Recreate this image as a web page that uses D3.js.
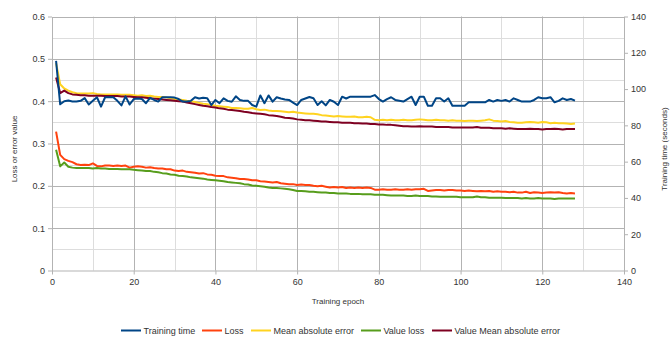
<!DOCTYPE html>
<html>
<head>
<meta charset="utf-8">
<script src="https://cdn.jsdelivr.net/npm/d3@7"></script>
<style>
  body { margin: 0; background: #fff; }
  svg { display: block; font-family: "Liberation Sans", Arial, sans-serif; }
</style>
</head>
<body>
<div id="chart"></div>
<script>
// epochs 1..128
const epochs = d3.range(1, 129);

const trainingTime = [
  115.5, 91.6, 93.3, 93.7, 93.2, 93.2, 93.5, 95.0, 91.5, 93.5,
  95.5, 90.3, 95.5, 95.5, 95.5, 93.5, 91.0, 96.0, 91.5, 94.5,
  94.8, 94.5, 92.2, 95.2, 94.0, 93.1, 95.5, 95.5, 95.5, 95.3,
  94.5, 93.1, 93.1, 93.5, 95.5, 94.8, 95.2, 95.0, 91.2, 94.0,
  92.2, 94.9, 93.5, 93.0, 96.0, 94.0, 93.5, 93.5, 91.2, 90.3,
  96.5, 92.2, 96.5, 93.1, 95.5, 94.8, 94.3, 94.0, 92.5, 91.2,
  94.0, 94.8, 95.6, 94.9, 91.2, 93.3, 91.0, 94.0, 93.0, 91.2,
  95.8, 94.8, 95.8, 95.8, 95.8, 95.8, 95.8, 95.8, 96.7, 94.5,
  93.1, 94.5, 95.5, 94.0, 93.6, 93.1, 94.5, 95.8, 91.2, 95.8,
  95.8, 90.8, 90.8, 94.9, 94.9, 93.1, 94.9, 90.8, 90.8, 90.8,
  90.8, 92.7, 92.7, 92.7, 92.7, 92.7, 94.0, 93.1, 94.0, 93.5,
  94.0, 93.1, 94.9, 94.0, 93.1, 93.1, 93.1, 94.0, 95.5, 94.9,
  94.9, 95.5, 92.7, 93.5, 94.9, 94.0, 94.5, 93.6
];

const loss = [
  0.328, 0.273, 0.263, 0.259, 0.256, 0.251, 0.249, 0.250, 0.249, 0.253,
  0.247, 0.246, 0.248, 0.248, 0.247, 0.248, 0.247, 0.248, 0.243, 0.245,
  0.246, 0.245, 0.243, 0.244, 0.242, 0.241, 0.241, 0.239, 0.239, 0.236,
  0.235, 0.236, 0.233, 0.232, 0.231, 0.229, 0.230, 0.227, 0.226, 0.224,
  0.223, 0.223, 0.220, 0.219, 0.218, 0.216, 0.216, 0.215, 0.213, 0.213,
  0.211, 0.210, 0.209, 0.208, 0.209, 0.206, 0.205, 0.204, 0.204, 0.202,
  0.203, 0.202, 0.202, 0.200, 0.199, 0.200, 0.198, 0.196, 0.197, 0.196,
  0.197, 0.195, 0.196, 0.195, 0.196, 0.195, 0.196, 0.195, 0.191, 0.191,
  0.192, 0.191, 0.191, 0.192, 0.191, 0.191, 0.192, 0.191, 0.192, 0.192,
  0.193, 0.188, 0.189, 0.190, 0.190, 0.189, 0.190, 0.190, 0.189, 0.189,
  0.188, 0.189, 0.188, 0.187, 0.188, 0.187, 0.188, 0.186, 0.187, 0.186,
  0.186, 0.185, 0.186, 0.184, 0.184, 0.186, 0.183, 0.185, 0.184, 0.183,
  0.184, 0.185, 0.184, 0.185, 0.183, 0.182, 0.183, 0.182
];

const meanAbsError = [
  0.490, 0.440, 0.430, 0.425, 0.421, 0.419, 0.418, 0.418, 0.418, 0.419,
  0.417, 0.416, 0.416, 0.416, 0.416, 0.416, 0.415, 0.415, 0.415, 0.414,
  0.413, 0.414, 0.412, 0.413, 0.411, 0.410, 0.410, 0.409, 0.407, 0.405,
  0.404, 0.403, 0.401, 0.400, 0.398, 0.396, 0.394, 0.393, 0.391, 0.389,
  0.388, 0.387, 0.386, 0.384, 0.384, 0.383, 0.382, 0.382, 0.384, 0.381,
  0.379, 0.380, 0.378, 0.377, 0.377, 0.376, 0.375, 0.374, 0.375, 0.373,
  0.372, 0.371, 0.370, 0.370, 0.369, 0.367, 0.366, 0.365, 0.364, 0.365,
  0.364, 0.363, 0.363, 0.364, 0.362, 0.362, 0.363, 0.362, 0.356, 0.355,
  0.356, 0.355, 0.356, 0.355, 0.355, 0.356, 0.355, 0.355, 0.356, 0.357,
  0.356, 0.355, 0.355, 0.356, 0.355, 0.355, 0.354, 0.355, 0.354, 0.354,
  0.353, 0.354, 0.354, 0.353, 0.354, 0.355, 0.357, 0.354, 0.353, 0.352,
  0.353, 0.351, 0.350, 0.349, 0.349, 0.350, 0.351, 0.350, 0.349, 0.351,
  0.350, 0.348, 0.349, 0.348, 0.348, 0.347, 0.346, 0.347
];

const valueLoss = [
  0.285, 0.246, 0.255, 0.245, 0.243, 0.242, 0.242, 0.242, 0.242, 0.241,
  0.242, 0.241, 0.241, 0.240, 0.240, 0.240, 0.239, 0.239, 0.239, 0.238,
  0.237, 0.236, 0.235, 0.235, 0.233, 0.232, 0.230, 0.229, 0.227, 0.226,
  0.224, 0.223, 0.222, 0.220, 0.219, 0.218, 0.217, 0.215, 0.214, 0.213,
  0.212, 0.211, 0.209, 0.208, 0.207, 0.206, 0.204, 0.203, 0.201, 0.200,
  0.199, 0.198, 0.196, 0.195, 0.195, 0.194, 0.193, 0.192, 0.190, 0.188,
  0.188, 0.187, 0.186, 0.186, 0.185, 0.184, 0.184, 0.183, 0.183, 0.182,
  0.182, 0.182, 0.181, 0.181, 0.181, 0.180, 0.180, 0.180, 0.179, 0.179,
  0.179, 0.178, 0.177, 0.177, 0.177, 0.177, 0.176, 0.176, 0.177, 0.176,
  0.176, 0.176, 0.175, 0.175, 0.174, 0.174, 0.174, 0.174, 0.174, 0.173,
  0.173, 0.173, 0.173, 0.175, 0.173, 0.173, 0.172, 0.172, 0.172, 0.172,
  0.171, 0.171, 0.171, 0.171, 0.170, 0.171, 0.170, 0.170, 0.171, 0.170,
  0.170, 0.170, 0.169, 0.170, 0.170, 0.170, 0.170, 0.170
];

const valueMeanAbsError = [
  0.456, 0.419, 0.425, 0.419, 0.416, 0.415, 0.414, 0.414, 0.413, 0.413,
  0.413, 0.413, 0.412, 0.412, 0.412, 0.412, 0.411, 0.411, 0.411, 0.410,
  0.409, 0.409, 0.408, 0.407, 0.406, 0.405, 0.404, 0.403, 0.402, 0.401,
  0.400, 0.399, 0.397, 0.395, 0.393, 0.391, 0.389, 0.388, 0.386, 0.385,
  0.383, 0.382, 0.380, 0.379, 0.378, 0.377, 0.375, 0.374, 0.372, 0.371,
  0.370, 0.369, 0.367, 0.366, 0.365, 0.363, 0.361, 0.360, 0.359, 0.357,
  0.356, 0.355, 0.355, 0.354, 0.353, 0.352, 0.352, 0.351, 0.350, 0.350,
  0.349, 0.349, 0.349, 0.348, 0.348, 0.347, 0.347, 0.346, 0.346, 0.345,
  0.345, 0.344, 0.344, 0.343, 0.342, 0.341, 0.341, 0.340, 0.340, 0.341,
  0.340, 0.340, 0.340, 0.339, 0.339, 0.339, 0.339, 0.338, 0.338, 0.338,
  0.338, 0.338, 0.338, 0.339, 0.337, 0.337, 0.337, 0.336, 0.336, 0.336,
  0.335, 0.336, 0.335, 0.334, 0.334, 0.334, 0.335, 0.334, 0.334, 0.333,
  0.334, 0.334, 0.335, 0.334, 0.333, 0.334, 0.334, 0.334
];

const xTicks = [0, 20, 40, 60, 80, 100, 120, 140];
const yTicks = [0, 0.1, 0.2, 0.3, 0.4, 0.5, 0.6];
const y2Ticks = [0, 20, 40, 60, 80, 100, 120, 140];

// series in legend order; training time goes on the right axis
const series = [
  {name: "Training time", values: trainingTime, color: "#004586", right: true},
  {name: "Loss", values: loss, color: "#ff420e"},
  {name: "Mean absolute error", values: meanAbsError, color: "#ffd320"},
  {name: "Value loss", values: valueLoss, color: "#579d1c"},
  {name: "Value Mean absolute error", values: valueMeanAbsError, color: "#7e0021"}
];

const width = 670, height = 337;
const margin = {top: 16.5, right: 46, bottom: 66.5, left: 52};
const plotW = width - margin.left - margin.right;
const plotH = height - margin.top - margin.bottom;

const x = d3.scaleLinear().domain([0, 140]).range([margin.left, margin.left + plotW]);
const y = d3.scaleLinear().domain([0, 0.6]).range([margin.top + plotH, margin.top]);
const y2 = d3.scaleLinear().domain([0, 140]).range([margin.top + plotH, margin.top]);

const svg = d3.select("#chart").append("svg")
    .attr("width", width)
    .attr("height", height);

// grid: minor first, then major
const grid = svg.append("g");
grid.selectAll(".hminor")
  .data(d3.range(0.05, 0.6, 0.1))
  .join("line")
    .attr("x1", x(0)).attr("x2", x(140))
    .attr("y1", d => Math.round(y(d)) + 0.5).attr("y2", d => Math.round(y(d)) + 0.5)
    .attr("stroke", "#dddddd");
grid.selectAll(".vminor")
  .data(d3.range(10, 140, 20))
  .join("line")
    .attr("x1", d => Math.round(x(d)) + 0.5).attr("x2", d => Math.round(x(d)) + 0.5)
    .attr("y1", y(0)).attr("y2", y(0.6))
    .attr("stroke", "#dddddd");
grid.selectAll(".hmajor")
  .data(yTicks.slice(1))
  .join("line")
    .attr("x1", x(0)).attr("x2", x(140))
    .attr("y1", d => Math.round(y(d)) + 0.5).attr("y2", d => Math.round(y(d)) + 0.5)
    .attr("stroke", "#b3b3b3");
grid.selectAll(".vmajor")
  .data(xTicks.slice(1, -1))
  .join("line")
    .attr("x1", d => Math.round(x(d)) + 0.5).attr("x2", d => Math.round(x(d)) + 0.5)
    .attr("y1", y(0)).attr("y2", y(0.6))
    .attr("stroke", "#b3b3b3");

// axes
const axisFont = g => {
  g.selectAll("text").attr("fill", "#333").style("font-size", "9px");
  g.selectAll("line, path").attr("stroke", "#b3b3b3");
};

svg.append("g")
    .attr("transform", `translate(0,${y(0)})`)
    .call(d3.axisBottom(x).tickValues(xTicks).tickSize(4).tickSizeOuter(0).tickPadding(4))
    .call(axisFont);

svg.append("g")
    .attr("transform", `translate(${x(0)},0)`)
    .call(d3.axisLeft(y).tickValues(yTicks).tickFormat(d => d === 0 ? "0" : d3.format(".1f")(d)).tickSize(4).tickSizeOuter(0).tickPadding(3))
    .call(axisFont);

svg.append("g")
    .attr("transform", `translate(${x(140)},0)`)
    .call(d3.axisRight(y2).tickValues(y2Ticks).tickSize(4).tickSizeOuter(0).tickPadding(3))
    .call(axisFont);

// axis titles
svg.append("text")
    .attr("x", x(70)).attr("y", 304)
    .attr("text-anchor", "middle")
    .attr("fill", "#333").style("font-size", "8px")
    .text("Training epoch");

svg.append("text")
    .attr("transform", `translate(17,149) rotate(-90)`)
    .attr("text-anchor", "middle")
    .attr("fill", "#333").style("font-size", "8px")
    .text("Loss or error value");

svg.append("text")
    .attr("transform", `translate(667,149) rotate(-90)`)
    .attr("text-anchor", "middle")
    .attr("fill", "#333").style("font-size", "8px")
    .text("Training time (seconds)");

// lines: left-axis series first, training time on top
const drawOrder = series.slice(1).concat(series.slice(0, 1));
const lines = svg.append("g");
drawOrder.forEach(s => {
  const yy = s.right ? y2 : y;
  const line = d3.line()
      .x((d, i) => x(epochs[i]))
      .y(d => yy(d));
  lines.append("path")
      .datum(s.values)
      .attr("fill", "none")
      .attr("stroke", s.color)
      .attr("stroke-width", 2)
      .attr("stroke-linejoin", "round")
      .attr("d", line);
});

// legend
const legendX = [121, 202, 251, 361, 432];
const legend = svg.append("g").attr("transform", "translate(0,330.5)");
const item = legend.selectAll("g")
  .data(series)
  .join("g")
    .attr("transform", (d, i) => `translate(${legendX[i]},0)`);
item.append("line")
    .attr("x1", 0).attr("x2", 20)
    .attr("stroke", d => d.color)
    .attr("stroke-width", 2);
item.append("text")
    .attr("x", 22.5).attr("dy", "0.35em")
    .attr("fill", "#333").style("font-size", "9px")
    .text(d => d.name);
</script>
</body>
</html>
